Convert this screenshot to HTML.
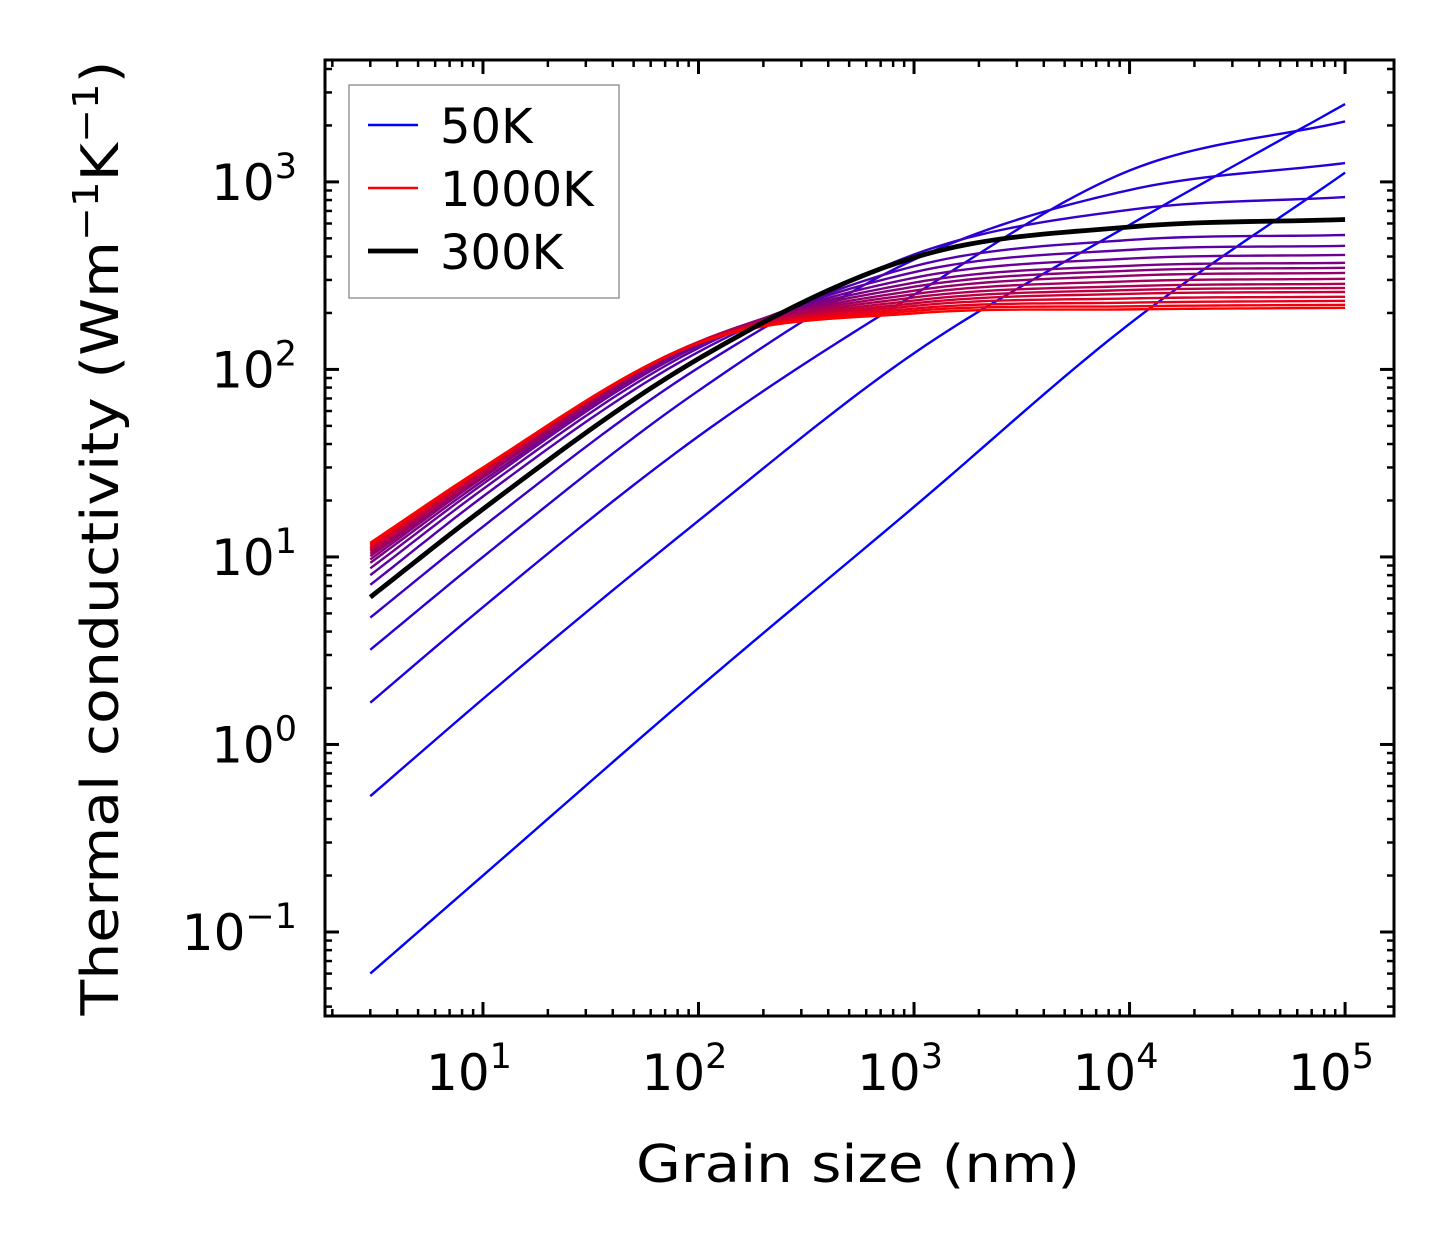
<!DOCTYPE html>
<html><head><meta charset="utf-8"><style>
html,body{margin:0;padding:0;background:#fff;}
svg{display:block;font-family:"DejaVu Sans","Liberation Sans",sans-serif;}
</style></head><body>
<svg id="chart" width="1454" height="1254" viewBox="0 0 1454 1254" xmlns="http://www.w3.org/2000/svg">
<rect width="1454" height="1254" fill="#fff"/>
<g id="lines"></g>
<g id="axes"></g>
<g id="legend"></g>
<text x="858" y="1182" font-size="52" text-anchor="middle" textLength="444" lengthAdjust="spacingAndGlyphs">Grain size (nm)</text>
<text transform="translate(118,538) rotate(-90)" font-size="52" text-anchor="middle" textLength="955" lengthAdjust="spacingAndGlyphs">Thermal conductivity (Wm<tspan dy="-20" font-size="36">−1</tspan><tspan dy="20">K</tspan><tspan dy="-20" font-size="36">−1</tspan><tspan dy="20">)</tspan></text>
</svg>
<script>
// sample grain sizes (nm)
const grainSizes = [3, 10, 100, 1000, 10000, 100000];
// temperatures (K)
const temps = [50,100,150,200,250,300,350,400,450,500,550,600,650,700,750,800,850,900,950,1000];
// conductivity at each grain size for each temperature
const k50   = [0.06, 0.2, 2.0, 18.5, 175, 1120];
const k100  = [0.53, 1.75, 15.6, 122, 590, 2600];
const k150  = [1.67, 5.4, 44, 250, 1150, 2100];
const k200  = [3.2, 10, 77, 385, 905, 1260];
const k250  = [4.75, 14.5, 102, 410, 710, 830];
const k300  = [6.1, 18, 114, 395, 575, 630];
const k350  = [7.1, 21, 124, 355, 490, 521];
const k400  = [8.0, 23, 130, 330, 434, 456];
const k450  = [8.7, 24.5, 134, 308, 390, 408];
const k500  = [9.3, 25.5, 137, 290, 357, 370];
const k550  = [9.7, 26.5, 139, 276, 336, 348];
const k600  = [10.1, 27, 140, 263, 316, 327];
const k650  = [10.4, 27.5, 140, 252, 295, 304];
const k700  = [10.7, 28, 140, 242, 278, 286];
const k750  = [10.9, 28.5, 140, 233, 265, 272];
const k800  = [11.1, 29, 140, 225, 253, 259];
const k850  = [11.3, 29.3, 139, 218, 239, 244];
const k900  = [11.5, 29.6, 139, 211, 227, 232];
const k950  = [11.7, 29.8, 138, 205, 217, 221];
const k1000 = [11.9, 30, 138, 199, 209, 213];
const series = [k50,k100,k150,k200,k250,k300,k350,k400,k450,k500,k550,k600,k650,k700,k750,k800,k850,k900,k950,k1000];
const xTickLabels = ["1","2","3","4","5"];
const yTickLabels = ["−1","0","1","2","3"];

const NS="http://www.w3.org/2000/svg";
const L=325,R=1394,T=60,B=1016;
const xMin=0.267,xMax=5.227,yMin=-1.448,yMax=3.65;
function xs(v){return L+(Math.log10(v)-xMin)/(xMax-xMin)*(R-L);}
function ys(v){return B-(Math.log10(v)-yMin)/(yMax-yMin)*(B-T);}
function mk(tag,attrs,parent){const e=document.createElementNS(NS,tag);for(const k in attrs)e.setAttribute(k,attrs[k]);parent.appendChild(e);return e;}

function curvePath(vals){
  const X=grainSizes.map(v=>Math.log10(v)),Y=vals.map(v=>Math.log10(v));
  const n=X.length,d=[],m=[];
  for(let i=0;i<n-1;i++)d.push((Y[i+1]-Y[i])/(X[i+1]-X[i]));
  m[0]=d[0];m[n-1]=d[n-2];
  for(let i=1;i<n-1;i++)m[i]=(d[i-1]*(X[i+1]-X[i])+d[i]*(X[i]-X[i-1]))/(X[i+1]-X[i-1]);
  let p="";
  for(let i=0;i<n-1;i++){
    const h=X[i+1]-X[i];
    for(let s=0;s<=20;s++){
      if(i>0&&s===0)continue;
      const t=s/20,t2=t*t,t3=t2*t;
      const y=(2*t3-3*t2+1)*Y[i]+(t3-2*t2+t)*h*m[i]+(-2*t3+3*t2)*Y[i+1]+(t3-t2)*h*m[i+1];
      const xv=Math.pow(10,X[i]+t*h),yv=Math.pow(10,y);
      p+=(p?"L":"M")+xs(xv).toFixed(2)+","+ys(yv).toFixed(2);
    }
  }
  return p;
}

const lg=document.getElementById('lines');
series.forEach((vals,i)=>{
  if(temps[i]===300)return;
  const f=i/(temps.length-1);
  const col="rgb("+Math.round(255*f)+",0,"+Math.round(255*(1-f))+")";
  const e=mk('path',{d:curvePath(vals),fill:"none",stroke:col,"stroke-width":2.4},lg);
  
  
});
{
  const e=mk('path',{d:curvePath(k300),fill:"none",stroke:"#000","stroke-width":4.8},lg);
  
  
}

const ax=document.getElementById('axes');
const fr=mk('rect',{x:L,y:T,width:R-L,height:B-T,fill:"none",stroke:"#000","stroke-width":3},ax);


function tick(x1,y1,x2,y2,w){mk('line',{x1,y1,x2,y2,stroke:"#000","stroke-width":w},ax);}
for(let dec=0;dec<=5;dec++){
  for(let j=1;j<=9;j++){
    const v=j*Math.pow(10,dec),lv=Math.log10(v);
    if(lv<xMin||lv>xMax)continue;
    const x=xs(v),len=j===1?14:7,w=j===1?3:2.5;
    tick(x,B,x,B-len,w);tick(x,T,x,T+len,w);
  }
}
xTickLabels.forEach(e=>{
  const x=xs(Math.pow(10,+e));
  const t=mk('text',{x:x-14,y:1090,"font-size":50,"text-anchor":"middle"},ax);
  
  
  t.innerHTML='10<tspan dy="-22" font-size="35">'+e+'</tspan>';
});
for(let dec=-2;dec<=3;dec++){
  for(let j=1;j<=9;j++){
    const v=j*Math.pow(10,dec),lv=Math.log10(v);
    if(lv<yMin||lv>yMax)continue;
    const y=ys(v),len=j===1?14:7,w=j===1?3:2.5;
    tick(L,y,L+len,y,w);tick(R,y,R-len,y,w);
  }
}
yTickLabels.forEach(e=>{
  const v=+e.replace('−','-');
  const y=ys(Math.pow(10,v));
  const t=mk('text',{x:297,y:y+18,"font-size":50,"text-anchor":"end"},ax);
  
  
  t.innerHTML='10<tspan dy="-22" font-size="35">'+e+'</tspan>';
});

const le=document.getElementById('legend');
const box=mk('rect',{x:349,y:85,width:270,height:213,fill:"#fff",stroke:"#999","stroke-width":1.5},le);


const entries=[["50K","rgb(0,0,255)",2.4,125],["1000K","rgb(255,0,0)",2.4,188],["300K","#000",4.8,251]];
entries.forEach(en=>{
  const g=mk('g',{},le);
  
  
  mk('line',{x1:368,y1:en[3],x2:418,y2:en[3],stroke:en[1],"stroke-width":en[2]},g);
  const t=mk('text',{x:440,y:en[3]+18,"font-size":48},g);
  t.textContent=en[0];
});
</script>
</body></html>
